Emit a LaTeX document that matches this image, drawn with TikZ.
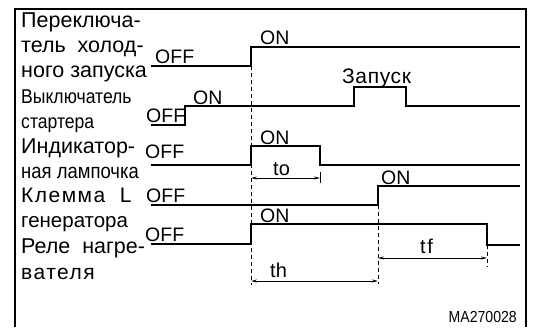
\documentclass[tikz,border=0pt]{standalone}
\usepackage{fontspec}
\setmainfont{Liberation Sans}
\newfontfamily\narrowfont{Liberation Sans}[FakeStretch=0.88]
\usetikzlibrary{arrows.meta}

\begin{document}
\begin{tikzpicture}[
   x=1pt,y=-1pt,
   frame/.style={line width=2pt},
   sig/.style={line width=1.1pt},
   guide/.style={line width=.8pt,dash pattern=on 4pt off 3pt},
   dim/.style={line width=.8pt,{Stealth[length=6pt,width=3pt]}-{Stealth[length=6pt,width=3pt]}},
   rowname/.style={anchor=base west,inner sep=0pt,font=\fontsize{21.5}{25}\selectfont},
   narrowname/.style={anchor=base west,inner sep=0pt,font=\narrowfont\fontsize{20}{25}\selectfont},
   spaced/.style={font=\addfontfeatures{LetterSpace=#1}\fontsize{21}{25}\selectfont},
   lvl/.style={anchor=base west,inner sep=0pt,font=\fontsize{19.5}{20}\selectfont},
   tlabel/.style={anchor=base west,inner sep=0pt,font=\fontsize{20}{22}\selectfont}
 ]
  \useasboundingbox (0,0) rectangle (536,327);

  % Frame, open at the bottom.
  \draw[frame] (15,327) -- (15,9) -- (526,9) -- (526,327);

  % Signal names in the left column.
  \node[rowname] (cold1) at (21,27) {Переключа-};
  \node[rowname] (cold2) at (21,52) {тель\ \ холод-};
  \node[rowname] (cold3) at (21,77.5) {ного запуска};
  \node[narrowname] (starter1) at (21,103) {Выключатель};
  \node[narrowname] (starter2) at (21,128) {стартера};
  \node[rowname] (lamp1) at (21,153) {Индикатор-};
  \node[narrowname,font=\narrowfont\fontsize{21}{25}\selectfont] (lamp2) at (21,178) {ная лампочка};
  \node[rowname,spaced=7] (term1) at (21,202) {Клемма\ \ L};
  \node[rowname,font=\fontsize{20.5}{25}\selectfont] (term2) at (21,227) {генератора};
  \node[rowname] (heater1) at (21,253) {Реле\ \ нагре-};
  \node[rowname,spaced=7] (heater2) at (21,279) {вателя};

  % Guides behind the time intervals.
  \draw[guide] (251,66) -- (251,285);
  \draw[guide] (378,205) -- (378,284);
  \draw[guide] (487,245) -- (487,267);

  % Cold start switch.
  \draw[sig] (151,66) -- (251,66) -- (251,47) -- (520,47);
  \node[lvl] (coldoff) at (155,63) {OFF};
  \node[lvl] (coldon) at (260,44) {ON};

  % Starter switch, with the cranking pulse.
  \draw[sig] (151,125) -- (185,125) -- (185,106) -- (354,106)
    -- (354,87) -- (406,87) -- (406,106) -- (520,106);
  \node[lvl] (starteroff) at (146,122) {OFF};
  \node[lvl] (starteron) at (193,104) {ON};
  \node[anchor=base west,inner sep=0pt,font=\addfontfeatures{LetterSpace=3}\fontsize{21}{22}\selectfont]
    (crank) at (342,83) {Запуск};

  % Indicator lamp.
  \draw[sig] (151,165) -- (251,165) -- (251,146) -- (320,146) -- (320,165) -- (520,165);
  \node[lvl] (lampoff) at (145,158) {OFF};
  \node[lvl] (lampon) at (260,144) {ON};
  \coordinate (toL) at (251,178);
  \coordinate (toR) at (320,178);
  \draw[line width=.8pt] (320,172) -- (320,183);
  \draw[dim] (toL) -- (toR);
  \node[tlabel] (to) at (273,175) {to};

  % Alternator terminal L.
  \draw[sig] (151,205) -- (378,205) -- (378,186) -- (520,186);
  \node[lvl] (termoff) at (146,202) {OFF};
  \node[lvl] (termon) at (381,184) {ON};

  % Heater relay.
  \draw[sig] (151,244) -- (251,244) -- (251,224) -- (487,224) -- (487,245) -- (520,245);
  \node[lvl] (heateroff) at (145,241) {OFF};
  \node[lvl] (heateron) at (260,222) {ON};
  \coordinate (thL) at (251,281);
  \coordinate (thR) at (378,281);
  \draw[dim] (thL) -- (thR);
  \node[tlabel] (th) at (270,277) {th};
  \coordinate (tfL) at (378,258);
  \coordinate (tfR) at (487,258);
  \draw[dim] (tfL) -- (tfR);
  \node[anchor=base west,inner sep=0pt,font=\addfontfeatures{LetterSpace=8}\fontsize{20}{22}\selectfont]
    (tf) at (420,253) {tf};

  \node[anchor=base east,inner sep=0pt,font=\narrowfont\fontsize{16}{18}\selectfont]
    (code) at (517,322) {MA270028};
\end{tikzpicture}
\end{document}
